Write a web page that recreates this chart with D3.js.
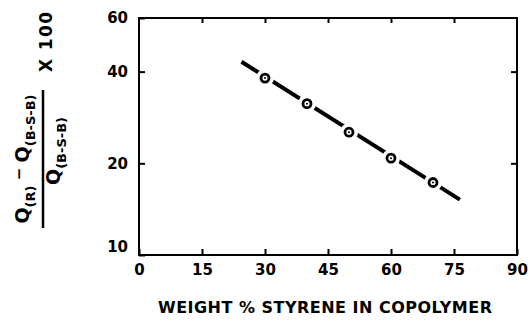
<!DOCTYPE html>
<html><head><meta charset="utf-8">
<script src="https://cdn.jsdelivr.net/npm/d3@7"></script>
<style>
html,body{margin:0;padding:0;background:#fff;}
svg{display:block;}
text{font-family:"DejaVu Sans",sans-serif;font-weight:bold;fill:#000;}
</style></head>
<body>
<svg id="c" width="528" height="321"></svg>
<script>
// data
const styrene = [30, 40, 50, 60, 70];
const qDiff = [38.1, 31.4, 25.3, 20.8, 17.3];
const fitX = [24.4, 76.4];
const fitY = [43.1, 15.2];
const xTicks = [0, 15, 30, 45, 60, 75, 90];
const yTicks = [10, 20, 40, 60];
const xTitle = "WEIGHT % STYRENE IN COPOLYMER";

const svg = d3.select("#c");
const L = 139, R = 517, T = 18, B = 255;
const x = d3.scaleLinear().domain([0, 90]).range([L, R]);
const y = d3.scaleLog().domain([10, 60]).range([B, T]);

// frame
svg.append("rect").attr("x", L).attr("y", T).attr("width", R - L).attr("height", B - T)
  .attr("fill", "none").attr("stroke", "#000").attr("stroke-width", 2);

// bottom axis
const gx = svg.append("g").attr("transform", `translate(0,${B})`)
  .call(d3.axisBottom(x).tickValues(xTicks).tickSizeInner(-6).tickSizeOuter(0).tickPadding(9));
gx.select(".domain").remove();
gx.selectAll("line").attr("stroke-width", 2);
gx.selectAll("text").style("font-size", "15px").attr("font-family", "DejaVu Sans");
// top ticks
const gt = svg.append("g").attr("transform", `translate(0,${T})`)
  .call(d3.axisTop(x).tickValues(xTicks.slice(1, -1)).tickSizeInner(-5).tickSizeOuter(0).tickFormat(""));
gt.select(".domain").remove();
gt.selectAll("line").attr("stroke-width", 2);

// left axis
const gy = svg.append("g").attr("transform", `translate(${L},0)`)
  .call(d3.axisLeft(y).tickValues(yTicks).tickSizeInner(-6).tickSizeOuter(0).tickPadding(11).tickFormat(d3.format("d")));
gy.select(".domain").remove();
gy.selectAll("line").attr("stroke-width", 2);
gy.selectAll("text").style("font-size", "15px")
  .attr("dy", d => d === 10 ? "-0.25em" : "0.32em");
// right ticks
const gr = svg.append("g").attr("transform", `translate(${R},0)`)
  .call(d3.axisRight(y).tickValues([20, 40]).tickSizeInner(-6).tickSizeOuter(0).tickFormat(""));
gr.select(".domain").remove();
gr.selectAll("line").attr("stroke-width", 2);

// fit line
const line = d3.line().x(d => x(d[0])).y(d => y(d[1]));
svg.append("path").datum(d3.zip(fitX, fitY)).attr("d", line)
  .attr("fill", "none").attr("stroke", "#000").attr("stroke-width", 4).attr("stroke-linecap", "butt");

// points: halo gap, ring, center dot
const pts = d3.zip(styrene, qDiff);
svg.selectAll(".halo").data(pts).join("circle").attr("class", "halo")
  .attr("cx", d => x(d[0])).attr("cy", d => y(d[1])).attr("r", 9).attr("fill", "#fff");
svg.selectAll(".ring").data(pts).join("circle").attr("class", "ring")
  .attr("cx", d => x(d[0])).attr("cy", d => y(d[1])).attr("r", 4)
  .attr("fill", "#fff").attr("stroke", "#000").attr("stroke-width", 2.8);
svg.selectAll(".dot").data(pts).join("circle").attr("class", "dot")
  .attr("cx", d => x(d[0])).attr("cy", d => y(d[1])).attr("r", 1).attr("fill", "#000");

// x title
svg.append("text").attr("x", 158).attr("y", 313).attr("textLength", 334)
  .attr("lengthAdjust", "spacing").style("font-size", "16px").text(xTitle);

// y title (rotated fraction)
const g = svg.append("g").attr("transform", "translate(0,159) rotate(-90)");
const num = g.append("text").attr("x", 0).attr("y", 29).attr("text-anchor", "middle").style("font-size", "19px");
num.append("tspan").text("Q");
num.append("tspan").attr("dy", 6).style("font-size", "13px").text("(R)");
num.append("tspan").attr("dy", -11).style("font-size", "15px").text(" \u2212 ");
num.append("tspan").attr("dy", 5).text("Q");
num.append("tspan").attr("dy", 6).style("font-size", "13px").text("(B-S-B)");
g.append("line").attr("x1", -69).attr("x2", 69).attr("y1", 43).attr("y2", 43)
  .attr("stroke", "#000").attr("stroke-width", 2.5);
const den = g.append("text").attr("x", 8).attr("y", 60).attr("text-anchor", "middle").style("font-size", "19px");
den.append("tspan").text("Q");
den.append("tspan").attr("dy", 6).style("font-size", "13px").text("(B-S-B)");
g.append("text").attr("x", 117).attr("y", 52).attr("text-anchor", "middle").style("font-size", "17px")
  .attr("textLength", 60).attr("lengthAdjust", "spacing").text("X 100");
</script>
</body></html>
